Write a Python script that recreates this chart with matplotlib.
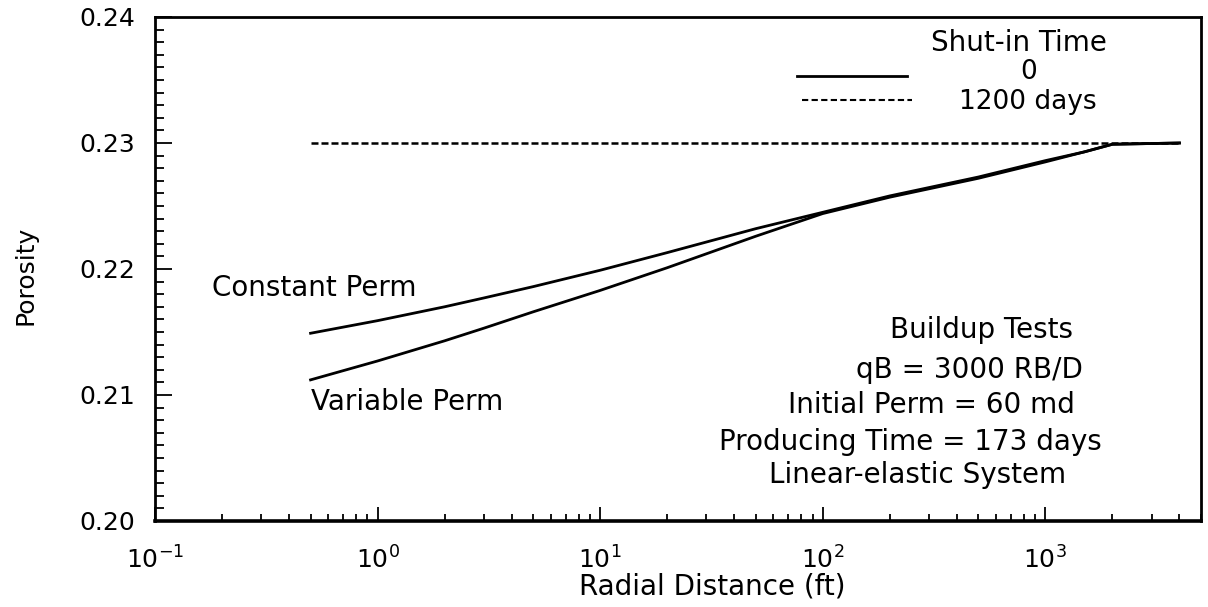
import numpy as np
import matplotlib
matplotlib.use("Agg")
import matplotlib.pyplot as plt
from matplotlib.ticker import LogLocator, MultipleLocator, FormatStrFormatter, NullFormatter

# Porosity profiles (radial distance in ft)
radius = [0.5, 1, 2, 3, 5, 10, 20, 50, 100, 200, 500, 1000, 1500, 2000, 4000]
phi_constant = [0.2149, 0.2159, 0.2170, 0.2177, 0.2186, 0.2199, 0.2213, 0.2232,
                0.2245, 0.2258, 0.2273, 0.2286, 0.2293, 0.2299, 0.2300]
phi_variable = [0.2112, 0.2127, 0.2143, 0.2153, 0.2166, 0.2183, 0.2201, 0.2226,
                0.2244, 0.2257, 0.2272, 0.2285, 0.2293, 0.2299, 0.2300]

# after 1200 days shut-in both cases recover to the initial porosity
radius_shutin = [0.5, 4000]
phi_shutin = [0.23, 0.23]

notes = ["Buildup Tests", "qB = 3000 RB/D", "Initial Perm = 60 md",
         "Producing Time = 173 days", "Linear-elastic System"]

plt.rcParams['font.family'] = ['DejaVu Sans']
plt.rcParams['mathtext.fontset'] = 'dejavusans'

fig = plt.figure(figsize=(12.08, 6.07), dpi=100)
ax = fig.add_axes([0.1283, 0.1417, 0.8659, 0.8303])

ax.plot(radius, phi_constant, color='black', lw=2.0)
ax.plot(radius, phi_variable, color='black', lw=2.0)
ax.plot(radius_shutin, phi_shutin, color='black', lw=1.8,
        linestyle=(0, (2.8, 1.2)))

ax.set_xscale('log')
ax.set_xlim(0.1, 5000)
ax.set_ylim(0.20, 0.24)

ax.xaxis.set_major_locator(LogLocator(base=10, numticks=10))
ax.xaxis.set_minor_locator(LogLocator(base=10, subs=np.arange(2, 10), numticks=20))
ax.xaxis.set_minor_formatter(NullFormatter())
ax.yaxis.set_major_locator(MultipleLocator(0.01))
ax.yaxis.set_minor_locator(MultipleLocator(0.001))
ax.yaxis.set_major_formatter(FormatStrFormatter('%.2f'))

ax.tick_params(which='both', direction='in', top=False, right=False, width=1.3)
ax.tick_params(axis='y', which='major', length=12, pad=14, labelsize=18)
ax.tick_params(axis='y', which='minor', length=6.5)
ax.tick_params(axis='x', which='major', length=10, pad=18, labelsize=18)
ax.tick_params(axis='x', which='minor', length=5)

for side in ['left', 'right', 'top']:
    ax.spines[side].set_linewidth(2.0)
ax.spines['bottom'].set_linewidth(2.6)

ax.set_xlabel('Radial Distance (ft)', fontsize=20)
ax.set_ylabel('Porosity', fontsize=18)
ax.xaxis.set_label_coords(0.533, -0.103)
ax.yaxis.set_label_coords(-0.112, 0.488)

# legend-style key for shut-in time
ax.text(0.826, 0.948, 'Shut-in Time', transform=ax.transAxes, ha='center', va='center', fontsize=20)
ax.plot([0.614, 0.719], [0.883, 0.883], transform=ax.transAxes, color='black', lw=2.0)
ax.text(0.835, 0.891, '0', transform=ax.transAxes, ha='center', va='center', fontsize=19)
ax.plot([0.619, 0.724], [0.835, 0.835], transform=ax.transAxes, color='black', lw=1.5,
        linestyle=(0, (3.0, 1.6)))
ax.text(0.834, 0.832, '1200 days', transform=ax.transAxes, ha='center', va='center', fontsize=19)

# curve labels
ax.text(0.152, 0.462, 'Constant Perm', transform=ax.transAxes, ha='center', va='center', fontsize=20)
ax.text(0.241, 0.236, 'Variable Perm', transform=ax.transAxes, ha='center', va='center', fontsize=20)

# test conditions
note_x = [0.790, 0.779, 0.742, 0.722, 0.729]
note_y = [0.379, 0.300, 0.230, 0.157, 0.091]
for s, nx, ny in zip(notes, note_x, note_y):
    ax.text(nx, ny, s, transform=ax.transAxes, ha='center', va='center', fontsize=20)

fig.savefig('out.png', dpi=100)
